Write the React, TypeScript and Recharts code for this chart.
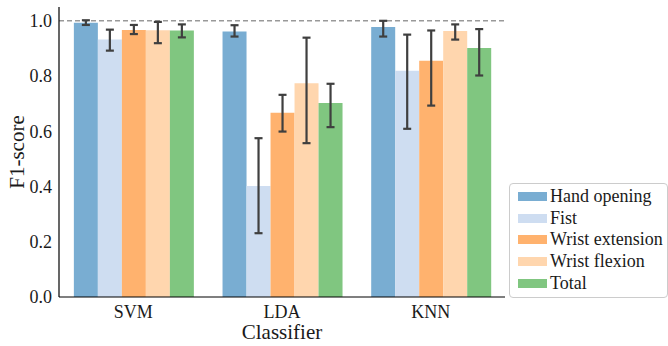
import React from 'react';
import { BarChart, Bar, XAxis, YAxis, ErrorBar, ReferenceLine, Legend, Label } from 'recharts';

const classifiers = ['SVM', 'LDA', 'KNN'];

const handOpening = [0.993, 0.961, 0.978];
const fist = [0.932, 0.402, 0.819];
const wristExtension = [0.967, 0.667, 0.855];
const wristFlexion = [0.966, 0.774, 0.963];
const total = [0.965, 0.702, 0.902];

// [below, above] error amounts
const handOpeningErr = [[0.008, 0.009], [0.018, 0.023], [0.035, 0.022]];
const fistErr = [[0.04, 0.036], [0.171, 0.173], [0.21, 0.131]];
const wristExtensionErr = [[0.015, 0.018], [0.068, 0.065], [0.162, 0.11]];
const wristFlexionErr = [[0.047, 0.03], [0.217, 0.165], [0.031, 0.024]];
const totalErr = [[0.025, 0.022], [0.087, 0.07], [0.1, 0.068]];

const yTicks = [0, 0.2, 0.4, 0.6, 0.8, 1.0];

const series = [
  { key: 'hand', name: 'Hand opening', color: '#79add2' },
  { key: 'fist', name: 'Fist', color: '#ceddf1' },
  { key: 'ext', name: 'Wrist extension', color: '#ffb26e' },
  { key: 'flex', name: 'Wrist flexion', color: '#ffd6ae' },
  { key: 'total', name: 'Total', color: '#80c680' },
];

const data = classifiers.map((c, i) => ({
  classifier: c,
  hand: handOpening[i], handErr: handOpeningErr[i],
  fist: fist[i], fistErr: fistErr[i],
  ext: wristExtension[i], extErr: wristExtensionErr[i],
  flex: wristFlexion[i], flexErr: wristFlexionErr[i],
  total: total[i], totalErr: totalErr[i],
}));

const FONT = '"Liberation Serif", "Times New Roman", serif';
const INK = '#1a1a1a';

function LegendBox() {
  return (
    <div style={{
      border: '1px solid #cccccc', borderRadius: 4, background: 'rgba(255,255,255,0.8)',
      padding: '2px 0 3px 8px', fontFamily: FONT, fontSize: 18, color: INK, boxSizing: 'border-box',
    }}>
      {series.map(s => (
        <div key={s.key} style={{ display: 'flex', alignItems: 'center', height: 21.6, whiteSpace: 'nowrap' }}>
          <span style={{ display: 'inline-block', width: 29, height: 9, background: s.color, marginRight: 3 }} />
          <span>{s.name}</span>
        </div>
      ))}
    </div>
  );
}

export default function App() {
  return (
    <div style={{ position: 'absolute', left: 0, top: 0, background: '#fff' }}>
      <BarChart width={668} height={346} data={data}
        margin={{ top: 7, right: 163, left: 0, bottom: 0 }}
        barCategoryGap="10%" barGap={0}>
        <XAxis dataKey="classifier" axisLine={{ stroke: '#000', strokeWidth: 1.2 }} tickLine={false} tickSize={0} tickMargin={8}
          tick={{ fill: INK, fontSize: 18, fontFamily: FONT }} height={49}>
          <Label content={() => (
            <text x={282} y={339} textAnchor="middle" fontFamily={FONT} fontSize={21} fill={INK}>Classifier</text>
          )} />
        </XAxis>
        <YAxis domain={[0, 1.05]} ticks={yTicks} width={59} axisLine={{ stroke: '#000', strokeWidth: 1.2 }}
          tickLine={false} tickSize={0} tickMargin={7} tickFormatter={(v: number) => v.toFixed(1)}
          tick={{ fill: INK, fontSize: 18, fontFamily: FONT }}>
          <Label content={() => (
            <text x={0} y={0} transform="translate(24 152) rotate(-90)" textAnchor="middle"
              fontFamily={FONT} fontSize={21} fill={INK}>F1-score</text>
          )} />
        </YAxis>
        <ReferenceLine y={1} stroke="#999999" strokeWidth={1.5} strokeDasharray="5 3" />
        {series.map(s => (
          <Bar key={s.key} dataKey={s.key} name={s.name} fill={s.color} isAnimationActive={false}>
            <ErrorBar dataKey={`${s.key}Err`} width={4} strokeWidth={2.2} stroke="#3f3f3f" />
          </Bar>
        ))}
        <Legend content={() => <LegendBox />} layout="horizontal" verticalAlign="middle" align="center"
          wrapperStyle={{ left: 509, top: 183, width: 159, height: 112 }} />
      </BarChart>
    </div>
  );
}
